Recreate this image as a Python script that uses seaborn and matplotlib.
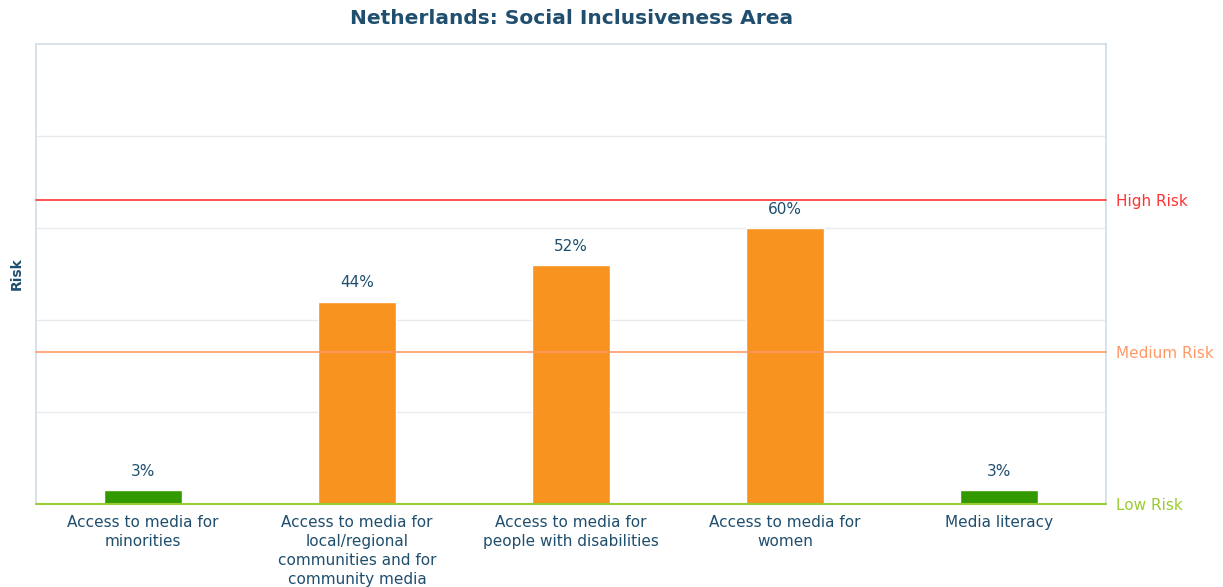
import matplotlib
matplotlib.use("Agg")
import matplotlib.pyplot as plt
import seaborn as sns
import pandas as pd

# Indicator scores for the Social Inclusiveness area (risk %)
categories = [
    "Access to media for\nminorities",
    "Access to media for\nlocal/regional\ncommunities and for\ncommunity media",
    "Access to media for\npeople with disabilities",
    "Access to media for\nwomen",
    "Media literacy",
]
values = [3, 44, 52, 60, 3]
levels = ["low", "medium", "medium", "medium", "low"]

# Risk thresholds and their labels
threshold_values = [0, 33, 66]
threshold_labels = ["Low Risk", "Medium Risk", "High Risk"]
threshold_colors = ["#99cc33", "#ff9966", "#ff3333"]

bar_palette = {"low": "#339900", "medium": "#f7931e"}
text_color = "#1f4e6e"

df = pd.DataFrame({"category": categories, "value": values, "level": levels})

sns.set_style("white")
plt.rcParams["font.family"] = ["DejaVu Sans"]

fig = plt.figure(figsize=(12.23, 5.87), dpi=100)
ax = fig.add_axes([0.0294, 0.1414, 0.875, 0.7836])

sns.barplot(data=df, x="category", y="value", hue="level", palette=bar_palette,
            dodge=False, width=0.365, legend=False, ax=ax, saturation=1)

ax.set_ylim(0, 100)
ax.set_xlim(-0.5, len(categories) - 0.5)
ax.set_yticks([20, 40, 60, 80])
ax.set_yticklabels([])
ax.yaxis.grid(True, color="#e8ebee", linewidth=1)
ax.set_axisbelow(True)
ax.tick_params(axis="both", length=0)
ax.tick_params(axis="x", pad=8, labelsize=11, labelcolor=text_color)
for lbl in ax.get_xticklabels():
    lbl.set_linespacing(1.32)
ax.set_xlabel("")
ax.set_ylabel("Risk", fontsize=10, fontweight="bold", color=text_color, labelpad=5)

for side in ["left", "top", "right"]:
    ax.spines[side].set_color("#cfdde6")
    ax.spines[side].set_linewidth(1.2)
ax.spines["bottom"].set_visible(False)

# Threshold lines with labels on the right
for val, lab, col in zip(threshold_values, threshold_labels, threshold_colors):
    ax.axhline(val, color=col, linewidth=1.5 if val == 0 else 1.2, zorder=3, clip_on=False)
    ax.annotate(lab, xy=(1, val), xycoords=("axes fraction", "data"),
                xytext=(7, -1), textcoords="offset points",
                ha="left", va="center", fontsize=11, color=col)

# Value labels above bars
for i, v in enumerate(values):
    ax.annotate(f"{v}%", xy=(i, v), xytext=(0, 8), textcoords="offset points",
                ha="center", va="bottom", fontsize=11, color=text_color)

fig.suptitle("Netherlands: Social Inclusiveness Area", x=0.467, y=0.985,
             fontsize=14.5, fontweight="bold", color=text_color)

fig.savefig("out.png", dpi=100)
